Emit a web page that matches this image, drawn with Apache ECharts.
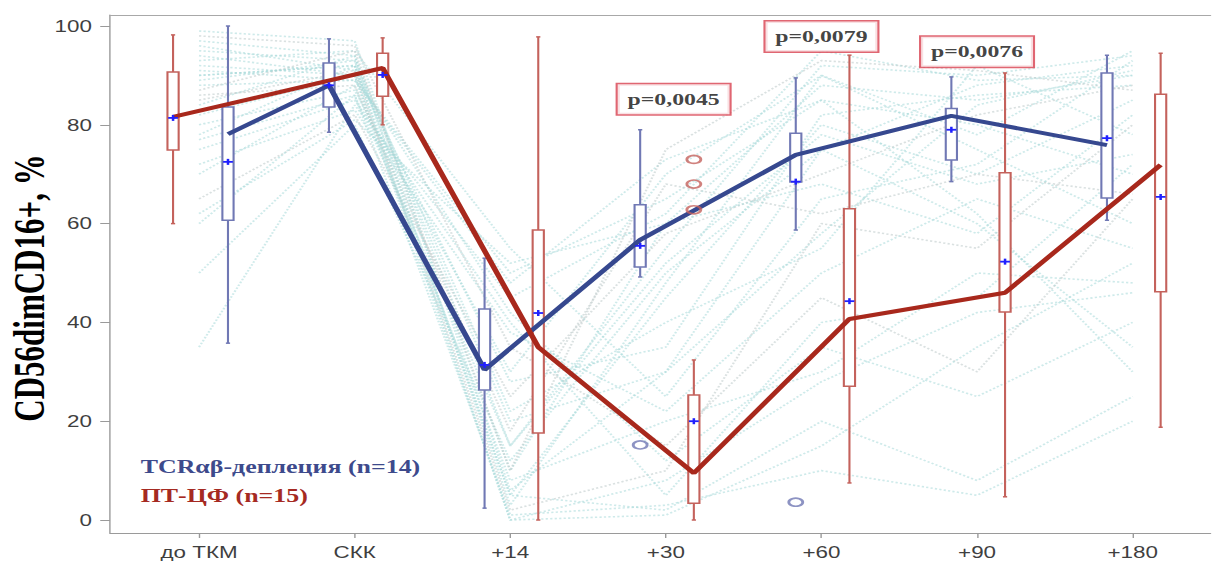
<!DOCTYPE html>
<html>
<head>
<meta charset="utf-8">
<script src="https://cdn.jsdelivr.net/npm/echarts@6/dist/echarts.min.js"></script>
<style>
  html, body { margin: 0; padding: 0; background: #fff; overflow: hidden; }
  #wrap { width: 1213px; height: 564px; overflow: hidden; }
  #c { width: 866.43px; height: 564px; transform: scaleX(1.4); transform-origin: 0 0; }
</style>
</head>
<body>
<div id="wrap"><div id="c"></div></div>
<script>
// ---------------- DATA ----------------
const categories = ['до ТКМ', 'СКК', '+14', '+30', '+60', '+90', '+180'];
const yTicks = [0, 20, 40, 60, 80, 100];
const tcrName = 'TCRαβ-деплеция (n=14)';
const ptcName = 'ПТ-ЦФ (n=15)';
const yTitle = 'CD56dimCD16+, %';

// TCRαβ-depletion group (blue)
const tcrMin    = [35.8, 78.5,  2.4, 49.2, 58.7, 68.5, 60.7];
const tcrQ1     = [60.7, 83.6, 26.3, 51.2, 68.4, 72.9, 65.2];
const tcrMedian = [78.1, 88.0, 30.4, 56.7, 73.9, 81.8, 75.9];
const tcrQ3     = [83.6, 92.5, 42.7, 63.8, 78.3, 83.3, 90.5];
const tcrMax    = [100,  97.4, 53.0, 79.0, 89.5, 89.7, 94.1];
const tcrMean   = [72.5, 88.0, 31.4, 55.5, 68.5, 79.0, 77.3];
const tcrOutliers = [[3, 15.2], [4, 3.6]];

// PT-CY group (red)
const ptcMin    = [60.0, 80.0,  0.0,  0.0,  7.5,  4.7, 18.8];
const ptcQ1     = [74.9, 85.8, 17.6,  3.4, 27.1, 42.1, 46.2];
const ptcMedian = [81.6, 91.5, 35.0,  9.5, 40.7, 46.0, 71.9];
const ptcQ3     = [90.7, 94.5, 58.7, 25.3, 63.0, 70.3, 86.2];
const ptcMax    = [98.2, 97.6, 97.8, 32.4, 94.1, 90.5, 94.5];
const ptcMean   = [81.4, 90.1, 41.9, 20.0, 44.3, 52.3, 65.4];
const ptcOutliers = [[3, 73.0], [3, 68.0], [3, 62.8]];

// p-value annotations: label, category position, value
const pLabels = ['p=0,0045', 'p=0,0079', 'p=0,0076'];
const pCats   = [3.05, 4.0, 5.0];
const pVals   = [85.2, 97.9, 94.8];

// individual patient trajectories (faint dotted background lines)
const patients = [
  [95, 93, 10, 60, 88, 85, 90],
  [92, 90,  5, 45, 80, 70, 85],
  [90, 92, 20, 30, 75, 88, 92],
  [88, 89, 50, 65, 85, 80, 70],
  [85, 91,  2, 10, 60, 55, 80],
  [97, 94, 15, 55, 92, 90, 94],
  [80, 87, 30, 70, 90, 75, 60],
  [75, 85, 40,  5, 40, 45, 72],
  [70, 88,  8, 20, 30, 50, 48],
  [65, 82, 25, 58, 70, 82, 88],
  [60, 86,  1,  3, 10,  5, 20],
  [93, 95, 55, 25, 65, 72, 93],
  [50, 80, 12, 50, 75, 60, 35],
  [35, 84, 45, 62, 95, 89, 90],
  [98, 96, 35, 15, 45, 30, 65],
  [82, 90,  0,  8, 28, 42, 46],
  [89, 93, 22, 40, 55, 92, 78],
  [91, 89, 48, 73, 85, 62, 30],
  [78, 92,  5,  2, 20,  8, 25],
  [86, 88, 18, 68, 62, 70, 66],
  [96, 91, 28, 35, 82, 86, 88],
  [84, 94,  3, 48, 90, 78, 95],
  [72, 83, 38, 22, 50, 65, 55],
  [94, 90, 42, 12, 35, 25, 40],
  [87, 95, 10, 75, 93, 91, 87],
  [62, 81, 52, 60, 68, 58, 82],
  [99, 97,  6, 30, 58, 84, 91],
  [77, 86, 15, 52, 78, 68, 74],
  [90, 92,  0,  1, 15, 35, 52]
];

// ---------------- LAYOUT / STYLE ----------------
const tcrOffset = [0.186, -0.165, -0.165, -0.165, -0.165, -0.165, -0.165];
const ptcOffset = [-0.167, 0.18, 0.18, 0.18, 0.18, 0.18, 0.18];
const BLUE_LINE = '#36488f', RED_LINE = '#a8281c';
const BLUE_BOX = '#7078b4', RED_BOX = '#c4625c';
const MEAN_COL = '#2020ff';
const BOX_W = 8, CAP_W = 3;

function boxRender(color) {
  return function (params, api) {
    const x = api.value(0);
    const pMin = api.coord([x, api.value(1)]);
    const pQ1 = api.coord([x, api.value(2)]);
    const pQ3 = api.coord([x, api.value(4)]);
    const pMax = api.coord([x, api.value(5)]);
    const hw = BOX_W / 2, cw = CAP_W / 2;
    const st = { stroke: color, lineWidth: 1.5, fill: null };
    return {
      type: 'group',
      children: [
        { type: 'line', shape: { x1: pMin[0], y1: pMin[1], x2: pQ1[0], y2: pQ1[1] }, style: st },
        { type: 'line', shape: { x1: pQ3[0], y1: pQ3[1], x2: pMax[0], y2: pMax[1] }, style: st },
        { type: 'line', shape: { x1: pMin[0] - cw, y1: pMin[1], x2: pMin[0] + cw, y2: pMin[1] }, style: st },
        { type: 'line', shape: { x1: pMax[0] - cw, y1: pMax[1], x2: pMax[0] + cw, y2: pMax[1] }, style: st },
        { type: 'rect', shape: { x: pQ3[0] - hw, y: pQ3[1], width: 2 * hw, height: pQ1[1] - pQ3[1] },
          style: { stroke: color, lineWidth: 1.5, fill: '#ffffff' } }
      ]
    };
  };
}
function meanRender(params, api) {
  const p = api.coord([api.value(0), api.value(1)]);
  const st = { stroke: MEAN_COL, lineWidth: 1.8 };
  return {
    type: 'group',
    children: [
      { type: 'line', shape: { x1: p[0] - 3.5, y1: p[1], x2: p[0] + 3.5, y2: p[1] }, style: st },
      { type: 'line', shape: { x1: p[0], y1: p[1] - 3, x2: p[0], y2: p[1] + 3 }, style: st }
    ]
  };
}

const idx = categories.map((_, i) => i);
const series = [];

patients.forEach((arr, k) => {
  series.push({
    type: 'line', silent: true, symbol: 'none', z: 1,
    data: arr.map((v, i) => [i, v]),
    lineStyle: { type: 'dotted', width: 1.6, color: k % 5 === 4 ? '#bcc8c8' : '#a6d9d9', opacity: 0.55 }
  });
});

series.push({
  type: 'custom', name: 'tcrBox', z: 2, silent: true,
  renderItem: boxRender(BLUE_BOX),
  encode: { x: 0, y: [1, 2, 3, 4, 5] },
  data: idx.map(i => [i + tcrOffset[i], tcrMin[i], tcrQ1[i], tcrMedian[i], tcrQ3[i], tcrMax[i]])
});
series.push({
  type: 'custom', name: 'ptcBox', z: 2, silent: true,
  renderItem: boxRender(RED_BOX),
  encode: { x: 0, y: [1, 2, 3, 4, 5] },
  data: idx.map(i => [i + ptcOffset[i], ptcMin[i], ptcQ1[i], ptcMedian[i], ptcQ3[i], ptcMax[i]])
});
series.push({
  type: 'line', name: tcrName, z: 3, symbol: 'none',
  lineStyle: { width: 4, color: BLUE_LINE }, itemStyle: { color: BLUE_LINE },
  data: idx.map(i => [i + tcrOffset[i], tcrMedian[i]])
});
series.push({
  type: 'line', name: ptcName, z: 3, symbol: 'none',
  lineStyle: { width: 4, color: RED_LINE }, itemStyle: { color: RED_LINE },
  data: idx.map(i => [i + ptcOffset[i], ptcMedian[i]])
});
series.push({
  type: 'scatter', z: 4, symbol: 'circle', symbolSize: [10, 8], silent: true,
  itemStyle: { color: 'rgba(255,255,255,0)', borderColor: BLUE_BOX, borderWidth: 1.8 },
  data: tcrOutliers.map(o => [o[0] + tcrOffset[o[0]], o[1]])
});
series.push({
  type: 'scatter', z: 4, symbol: 'circle', symbolSize: [10, 8], silent: true,
  itemStyle: { color: 'rgba(255,255,255,0)', borderColor: RED_BOX, borderWidth: 1.8 },
  data: ptcOutliers.map(o => [o[0] + ptcOffset[o[0]], o[1]])
});
series.push({
  type: 'custom', z: 5, silent: true, renderItem: meanRender,
  data: idx.map(i => [i + tcrOffset[i], tcrMean[i]])
});
series.push({
  type: 'custom', z: 5, silent: true, renderItem: meanRender,
  data: idx.map(i => [i + ptcOffset[i], ptcMean[i]])
});
series.push({
  type: 'scatter', z: 6, symbolSize: 0, silent: true,
  data: pCats.map((c, k) => [c, pVals[k]]),
  label: {
    show: true, position: 'inside',
    formatter: p => pLabels[p.dataIndex],
    fontFamily: '"Liberation Serif", "Times New Roman", serif', fontWeight: 'bold', fontSize: 17,
    color: '#111', backgroundColor: '#ffffff', borderColor: '#d8404f', borderWidth: 1.5,
    padding: [7, 7, 6, 7]
  }
});

const chart = echarts.init(document.getElementById('c'), null, { renderer: 'svg' });
chart.setOption({
  animation: false,
  backgroundColor: '#ffffff',
  grid: { left: 78.6, right: 1.4, top: 15, bottom: 31 },
  legend: {
    data: [
      { name: tcrName, textStyle: { color: '#3d4a8c' } },
      { name: ptcName, textStyle: { color: '#a52a22' } }
    ],
    orient: 'vertical', left: 90.5, top: 452, itemWidth: 0, itemHeight: 0, itemGap: 9,
    icon: 'rect', selectedMode: false,
    textStyle: { fontFamily: '"Liberation Serif", "Times New Roman", serif', fontWeight: 'bold', fontSize: 18.5, lineHeight: 20 }
  },
  xAxis: [{
    type: 'value', min: -0.572, max: 6.5,
    splitLine: { show: false },
    axisLine: { show: true, onZero: false, lineStyle: { color: '#9a9a9a', width: 1.2 } },
    axisTick: { show: true, customValues: idx, length: 5, lineStyle: { color: '#9a9a9a' } },
    axisLabel: {
      customValues: idx, formatter: v => categories[Math.round(v)], margin: 11,
      fontFamily: '"Liberation Sans", Arial, sans-serif', fontSize: 16, color: '#3f3f3f'
    }
  }, {
    type: 'value', position: 'top', min: -0.572, max: 6.5,
    splitLine: { show: false }, axisTick: { show: false }, axisLabel: { show: false },
    axisLine: { show: true, onZero: false, lineStyle: { color: '#a8a8a8', width: 1.2 } }
  }],
  yAxis: {
    type: 'value', min: -2.63, max: 102.23,
    splitLine: { show: false },
    axisLine: { show: true, onZero: false, lineStyle: { color: '#9a9a9a', width: 1 } },
    axisTick: { show: true, customValues: yTicks, length: 7, lineStyle: { color: '#9a9a9a' } },
    axisLabel: {
      customValues: yTicks, margin: 13,
      fontFamily: '"Liberation Sans", Arial, sans-serif', fontSize: 16, color: '#3f3f3f'
    }
  },
  graphic: [{
    type: 'text', x: 20.5, y: 288, rotation: Math.PI / 2,
    style: {
      text: yTitle, fill: '#000', align: 'center', verticalAlign: 'middle',
      font: 'bold 31px "Liberation Serif", "Times New Roman", serif'
    }
  }],
  series: series
});
</script>
</body>
</html>
